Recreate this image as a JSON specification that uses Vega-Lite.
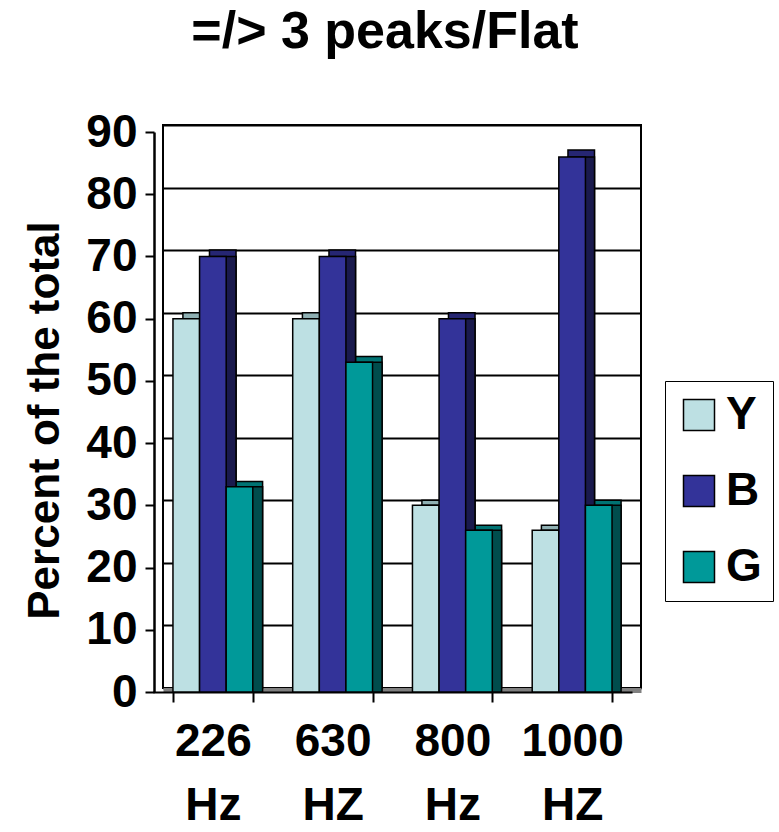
{
  "$schema": "https://vega.github.io/schema/vega-lite/v6.json",
  "autosize": {"type": "none"},
  "padding": {"left": 163, "top": 125, "right": 138, "bottom": 144},
  "width": 478,
  "height": 563,
  "background": "white",
  "title": {
    "text": "=/> 3 peaks/Flat",
    "font": "Liberation Sans",
    "fontSize": 52,
    "fontWeight": "bold",
    "color": "black",
    "anchor": "middle",
    "frame": "group",
    "offset": 50,
    "dx": -17
  },
  "config": {
    "view": {"stroke": "black", "strokeWidth": 2},
    "font": "Liberation Sans",
    "axis": {
      "labelFont": "Liberation Sans",
      "labelFontWeight": "bold",
      "labelColor": "black",
      "titleFont": "Liberation Sans",
      "titleFontWeight": "bold",
      "titleColor": "black"
    }
  },
  "data": {
    "values": [
      {"freq": "226 Hz", "group": "Y", "pct": 60},
      {"freq": "226 Hz", "group": "B", "pct": 70},
      {"freq": "226 Hz", "group": "G", "pct": 33},
      {"freq": "630 HZ", "group": "Y", "pct": 60},
      {"freq": "630 HZ", "group": "B", "pct": 70},
      {"freq": "630 HZ", "group": "G", "pct": 53},
      {"freq": "800 Hz", "group": "Y", "pct": 30},
      {"freq": "800 Hz", "group": "B", "pct": 60},
      {"freq": "800 Hz", "group": "G", "pct": 26},
      {"freq": "1000 HZ", "group": "Y", "pct": 26},
      {"freq": "1000 HZ", "group": "B", "pct": 86},
      {"freq": "1000 HZ", "group": "G", "pct": 30}
    ]
  },
  "layer": [
    {
      "description": "top faces: the bars pushed back onto the wall plane",
      "mark": {"type": "bar", "stroke": "black", "strokeWidth": 1.5},
      "encoding": {
        "x": {
          "field": "freq", "type": "nominal",
          "scale": {"domain": ["226 Hz", "630 HZ", "800 Hz", "1000 HZ"], "paddingInner": 0.3333, "paddingOuter": 0.1667},
          "axis": null
        },
        "xOffset": {"field": "group", "type": "nominal", "scale": {"domain": ["Y", "B", "G"]}},
        "y": {
          "field": "pct", "type": "quantitative",
          "scale": {"domain": [0, 90], "nice": false},
          "axis": {
            "grid": true, "gridColor": "black", "gridWidth": 2,
            "domain": false, "ticks": false, "labels": false, "title": null,
            "values": [0, 10, 20, 30, 40, 50, 60, 70, 80, 90]
          }
        },
        "color": {
          "field": "group", "type": "nominal",
          "scale": {"domain": ["Y", "B", "G"], "range": ["#8FB0B3", "#262673", "#007373"]},
          "legend": null
        }
      }
    },
    {
      "description": "side faces: shifted right only",
      "mark": {"type": "bar", "stroke": "black", "strokeWidth": 1.5},
      "encoding": {
        "x": {
          "field": "freq", "type": "nominal",
          "scale": {"domain": ["226 Hz", "630 HZ", "800 Hz", "1000 HZ"], "paddingInner": 0.3333, "paddingOuter": 0.1667},
          "axis": {
            "domain": true, "domainColor": "#808080", "domainWidth": 5, "offset": 2,
            "ticks": false, "labels": false, "title": null, "grid": false
          }
        },
        "xOffset": {"field": "group", "type": "nominal", "scale": {"domain": ["Y", "B", "G"]}},
        "y": {
          "field": "pct", "type": "quantitative",
          "scale": {"domain": [0, 90], "nice": false, "range": [567, 7]},
          "axis": null
        },
        "color": {
          "field": "group", "type": "nominal",
          "scale": {"domain": ["Y", "B", "G"], "range": ["#5F7678", "#1A1A4D", "#004D4D"]},
          "legend": null
        }
      }
    },
    {
      "description": "front faces, with the front axes and the legend",
      "mark": {"type": "bar", "stroke": "black", "strokeWidth": 1.5},
      "encoding": {
        "x": {
          "field": "freq", "type": "nominal",
          "scale": {"domain": ["226 Hz", "630 HZ", "800 Hz", "1000 HZ"], "paddingInner": 0.3333, "paddingOuter": 0.1667, "range": [-10, 469]},
          "axis": {
            "orient": "bottom", "offset": 4, "title": null,
            "domain": true, "domainColor": "black", "domainWidth": 2,
            "ticks": true, "tickBand": "extent", "tickColor": "black", "tickWidth": 2, "tickSize": 10,
            "labelAngle": 0, "labelFontSize": 46, "labelPadding": 17, "labelLineHeight": 64,
            "labelExpr": "split(datum.label, ' ')", "grid": false
          }
        },
        "xOffset": {"field": "group", "type": "nominal", "scale": {"domain": ["Y", "B", "G"]}},
        "y": {
          "field": "pct", "type": "quantitative",
          "scale": {"domain": [0, 90], "nice": false, "range": [567, 7]},
          "axis": {
            "orient": "left", "offset": 9, "grid": false,
            "values": [0, 10, 20, 30, 40, 50, 60, 70, 80, 90],
            "domain": true, "domainColor": "black", "domainWidth": 2.5,
            "ticks": true, "tickColor": "black", "tickWidth": 2, "tickSize": 9,
            "labelFontSize": 46, "labelPadding": 8,
            "title": "Percent of the total", "titleFontSize": 44, "titlePadding": 18,
            "titleY": 295
          }
        },
        "color": {
          "field": "group", "type": "nominal",
          "scale": {"domain": ["Y", "B", "G"], "range": ["#BDE0E3", "#333399", "#009999"]},
          "legend": {
            "title": null, "orient": "none", "legendX": 502, "legendY": 256,
            "direction": "vertical",
            "strokeColor": "black", "fillColor": "white", "padding": 11,
            "symbolType": "square", "symbolSize": 961,
            "symbolStrokeColor": "black", "symbolStrokeWidth": 1.5, "symbolOpacity": 1,
            "labelFont": "Liberation Sans", "labelFontWeight": "bold",
            "labelFontSize": 46, "labelColor": "black", "labelOffset": 4,
            "rowPadding": 30
          }
        }
      }
    }
  ],
  "resolve": {
    "scale": {"x": "independent", "y": "independent", "color": "independent", "xOffset": "independent"},
    "axis": {"x": "independent", "y": "independent"},
    "legend": {"color": "independent"}
  }
}
